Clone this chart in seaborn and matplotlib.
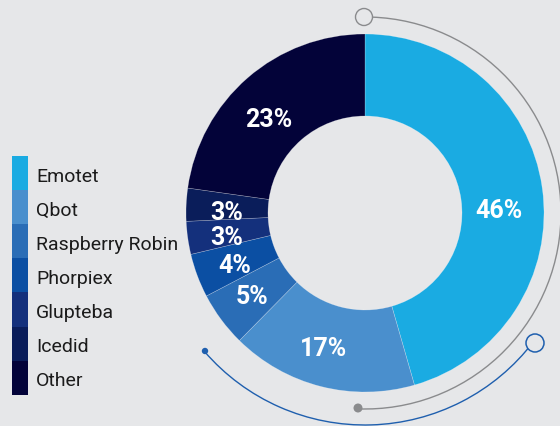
import numpy as np
import matplotlib
matplotlib.use("Agg")
import matplotlib.pyplot as plt
from matplotlib.patches import Arc, Circle, Rectangle
import seaborn as sns

# Share of detections by malware family
families = ["Emotet", "Qbot", "Raspberry Robin", "Phorpiex", "Glupteba", "Icedid", "Other"]
shares = [46, 17, 5, 4, 3, 3, 23]
family_colors = ["#1aabe2", "#4a8fcd", "#2a6db6", "#0b4fa3", "#14307c", "#0a1d5a", "#030339"]

# Fine placement of each percentage label relative to its segment midpoint (px, right/down)
label_nudge = [(-3, 14), (-3, 2), (1, 5), (1, 9), (-1, 11), (-1, 12), (-12, 15)]

sns.set_theme(style="white")
plt.rcParams["font.family"] = ["Roboto", "DejaVu Sans"]

bg = "#e6e7e9"
palette = sns.color_palette(family_colors)

fig = plt.figure(figsize=(5.6, 4.27), dpi=100, facecolor=bg)
ax = fig.add_axes([0, 0, 1, 1])
ax.set_facecolor(bg)

cx, cy = 365, 427 - 214
r_out, r_in = 179, 97

wedges, _ = ax.pie(
    shares, colors=palette, startangle=90, counterclock=False,
    radius=r_out, center=(cx, cy), frame=True,
    wedgeprops=dict(width=r_out - r_in, linewidth=0.4, edgecolor=(1, 1, 1, 0.35)),
)
ax.set_xlim(0, 560)
ax.set_ylim(0, 427)
ax.set_aspect("equal")
ax.axis("off")

# Percentage labels in the middle of each ring segment
r_lab = (r_out + r_in) / 2
cum = 0
for val, (dx, dy) in zip(shares, label_nudge):
    mid = 90 - (cum + val / 2) / 100 * 360
    cum += val
    x = cx + r_lab * np.cos(np.radians(mid)) + dx
    y = cy + r_lab * np.sin(np.radians(mid)) - dy
    ax.text(x, y, f"{val}%", color="white", fontsize=18, fontweight="bold",
            ha="center", va="center")

# Decorative outer arcs
gray = "#8a8b8d"
ax.add_patch(Arc((cx, cy), 2 * 196, 2 * 196, theta1=-92, theta2=88,
                 color=gray, lw=1.0))
ax.add_patch(Circle((cx - 1, cy + 196), 8.5, facecolor=bg, edgecolor=gray, lw=1.0, zorder=5))
ax.add_patch(Circle((358, 427 - 409), 4.5, facecolor=gray, edgecolor="none", zorder=5))

blue = "#1f5fae"
ax.add_patch(Arc((cx, cy), 2 * 212, 2 * 212, theta1=220.8, theta2=322.6,
                 color=blue, lw=1.0))
ax.add_patch(Circle((535, 427 - 344), 9, facecolor=bg, edgecolor=blue, lw=1.1, zorder=5))
ax.add_patch(Circle((205, 427 - 352), 3.2, facecolor=blue, edgecolor="none", zorder=5))

# Legend: stacked colour swatches with names
top, step = 157, 34.1
for i, (name, col) in enumerate(zip(families, palette)):
    y0 = 427 - (top + (i + 1) * step)
    ax.add_patch(Rectangle((12, y0), 16, step, facecolor=col, edgecolor="none"))
    ax.text(36, y0 + step / 2 - 2.5, name, color="#1b1b1b", fontsize=14,
            ha="left", va="center")

fig.savefig("out.png", dpi=100, facecolor=bg)
